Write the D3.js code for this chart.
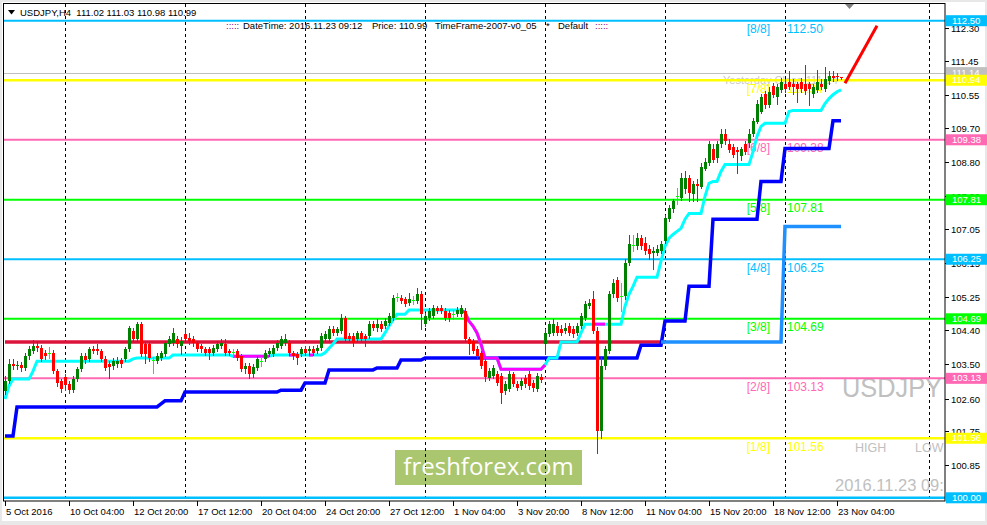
<!DOCTYPE html>
<html><head><meta charset="utf-8">
<script src="https://cdn.jsdelivr.net/npm/d3@7"></script>
<style>html,body{margin:0;padding:0;background:#fff;}svg{display:block;}text{font-family:"Liberation Sans",Arial,sans-serif;white-space:pre;}</style>
</head><body>
<svg id="c" width="987" height="525"></svg>
<script>
// ---------------- DATA ----------------
const timeTickIdx = [0,16,32,48,64,80,96,112,128,144,160,176,192,208];
const timeTickLabels = ["5 Oct 2016","10 Oct 04:00","12 Oct 20:00","17 Oct 12:00","20 Oct 04:00","24 Oct 20:00","27 Oct 12:00","1 Nov 04:00","3 Nov 20:00","8 Nov 12:00","11 Nov 04:00","15 Nov 20:00","18 Nov 12:00","23 Nov 04:00"];
const priceTicks = [112.30,111.45,110.55,109.70,108.80,107.90,107.05,106.15,105.25,104.40,103.50,102.60,101.75,100.85];
const separatorIdx = [15,45,75,105,135,165,195,231];

const open = [
102.80,103.06,103.50,103.45,103.48,103.40,103.71,103.84,103.97,103.92,
103.79,103.79,103.79,103.32,103.06,103.16,102.98,102.82,103.11,103.37,
103.71,103.64,103.90,103.90,103.84,103.64,103.50,103.45,103.50,103.61,
103.64,103.90,104.37,104.16,104.55,104.03,104.03,103.60,103.58,103.66,
103.77,104.03,104.06,104.16,103.97,104.29,104.19,104.16,104.06,103.97,
103.90,103.90,103.79,103.90,103.97,104.03,103.84,103.82,103.84,103.71,
103.37,103.45,103.24,103.40,103.58,103.64,103.77,103.77,103.92,103.97,
104.06,104.06,103.79,103.77,103.77,103.90,103.84,103.90,103.84,103.92,
104.16,104.16,104.42,104.32,104.37,104.71,104.24,104.24,104.16,104.32,
104.24,104.24,104.55,104.45,104.55,104.50,104.58,104.71,105.26,105.23,
105.20,105.10,105.18,105.15,105.33,104.55,104.71,104.76,104.97,104.97,
104.89,104.84,104.81,104.81,104.81,104.89,104.16,104.11,103.90,103.79,
103.58,103.14,103.19,103.24,103.19,102.80,102.85,103.24,102.98,102.93,
103.14,103.24,103.01,102.85,103.16,104.03,104.29,104.32,104.50,104.42,
104.37,104.50,104.42,104.32,104.50,104.71,105.02,105.20,104.37,101.75,
103.45,103.84,105.33,105.70,105.28,105.28,106.15,106.62,106.59,106.80,
106.67,106.51,106.41,106.41,106.46,106.72,107.29,107.55,107.90,107.84,
108.08,108.37,107.95,108.21,108.16,108.63,108.76,109.15,108.89,109.26,
109.52,109.28,109.20,109.10,108.94,109.28,109.28,109.52,109.86,110.12,
110.59,110.30,110.80,110.51,110.70,110.85,110.90,110.85,110.83,110.90,
110.83,110.83,110.59,110.70,110.85,110.72,110.90,111.06,111.05,111.02];
const close = [
103.06,103.50,103.45,103.48,103.40,103.71,103.90,103.97,103.92,103.64,
103.71,103.79,103.32,103.01,102.85,102.95,102.82,103.11,103.37,103.71,
103.61,103.90,103.84,103.84,103.64,103.40,103.43,103.58,103.58,103.50,
103.90,104.45,104.16,104.55,103.77,103.77,103.66,103.60,103.71,103.79,
104.06,104.16,104.32,104.03,104.11,104.16,104.11,104.06,103.90,103.90,
103.79,103.79,103.92,104.03,104.06,103.79,103.79,103.82,103.66,103.37,
103.45,103.24,103.43,103.64,103.58,103.79,103.84,103.92,104.06,104.16,
104.16,103.79,103.71,103.66,103.90,103.79,103.90,103.79,103.92,104.24,
104.29,104.42,104.32,104.42,104.71,104.16,104.16,104.06,104.32,104.16,
104.16,104.55,104.45,104.55,104.42,104.63,104.76,105.23,105.26,105.15,
105.07,105.20,105.18,105.33,104.81,104.76,104.89,104.97,104.89,104.89,
104.71,104.71,104.81,104.92,104.97,104.16,104.03,103.84,103.71,103.45,
103.16,103.32,103.40,103.01,102.75,102.98,103.24,102.98,102.88,103.06,
102.98,102.93,102.88,103.19,103.09,104.32,104.55,104.55,104.32,104.32,
104.45,104.32,104.29,104.50,104.76,105.07,105.10,104.37,101.75,103.45,
103.90,105.33,105.62,105.23,105.28,106.15,106.64,106.62,106.80,106.59,
106.46,106.38,106.46,106.51,106.64,107.32,107.58,107.77,107.90,108.37,
108.37,107.98,108.21,108.16,108.68,108.81,109.26,108.86,109.26,109.52,
109.34,109.13,108.99,109.05,109.13,109.07,109.52,109.86,110.33,110.51,
110.30,110.64,110.57,110.77,110.90,110.72,110.77,110.77,110.70,110.72,
110.64,110.70,110.77,110.90,110.77,110.98,111.04,111.01,111.02,110.99];
const high = [
103.19,103.63,103.63,103.58,103.56,103.79,103.97,104.13,104.11,104.00,
103.87,103.95,103.87,103.37,103.11,103.24,103.06,103.19,103.43,103.79,
103.79,103.95,103.97,104.03,103.90,103.71,103.58,103.66,103.69,103.66,
103.95,104.50,104.45,104.60,104.60,104.11,104.08,103.69,103.79,103.84,
104.11,104.24,104.45,104.24,104.21,104.42,104.32,104.24,104.11,104.03,
103.95,103.95,104.00,104.11,104.16,104.16,103.90,103.90,103.90,103.77,
103.53,103.53,103.50,103.71,103.69,103.87,103.92,104.00,104.13,104.24,
104.29,104.13,103.84,103.82,103.95,103.97,103.97,103.97,104.00,104.32,
104.37,104.50,104.50,104.47,104.81,104.76,104.32,104.32,104.37,104.37,
104.29,104.63,104.63,104.68,104.63,104.71,104.84,105.31,105.36,105.31,
105.26,105.36,105.28,105.49,105.41,104.84,104.97,105.05,105.02,105.05,
104.97,104.92,104.92,105.00,105.05,104.97,104.21,104.16,103.97,103.84,
103.64,103.40,103.48,103.32,103.27,103.06,103.32,103.30,103.06,103.14,
103.22,103.32,103.09,103.27,103.24,104.42,104.63,104.68,104.60,104.52,
104.58,104.58,104.50,104.58,104.84,105.15,105.20,105.41,104.47,103.71,
103.97,105.41,105.73,105.78,105.62,106.25,106.88,106.88,106.93,106.88,
106.82,106.62,106.56,106.62,106.72,107.40,107.66,107.84,108.11,108.50,
108.55,108.45,108.29,108.34,108.76,108.89,109.34,109.26,109.34,109.65,
109.65,109.39,109.28,109.20,109.20,109.36,109.65,109.94,110.41,110.59,
110.67,110.75,110.88,110.85,110.99,110.96,111.17,110.96,110.90,111.01,
111.35,110.90,110.85,111.22,110.96,111.30,111.17,111.17,111.12,111.03];
const low = [
102.72,103.01,103.37,103.37,103.32,103.35,103.64,103.79,103.84,103.58,
103.64,103.66,103.27,102.93,102.77,102.82,102.75,102.77,103.06,103.32,
103.53,103.58,103.79,103.77,103.58,103.35,103.14,103.37,103.43,103.43,
103.58,103.84,104.11,104.11,103.71,103.53,103.58,103.27,103.53,103.61,
103.71,103.97,104.00,103.95,103.77,104.11,104.03,103.97,103.84,103.82,
103.74,103.64,103.74,103.84,103.92,103.74,103.74,103.71,103.61,103.32,
103.27,103.14,103.16,103.35,103.45,103.58,103.71,103.71,103.87,103.92,
104.00,103.74,103.64,103.50,103.71,103.74,103.77,103.74,103.79,103.87,
104.11,104.11,104.26,104.26,104.32,104.11,104.08,103.97,104.11,104.11,
103.97,104.19,104.40,104.37,104.37,104.45,104.52,104.66,105.15,105.10,
105.02,105.05,105.07,105.10,104.42,104.50,104.66,104.71,104.84,104.84,
104.66,104.63,104.68,104.76,104.76,104.11,103.77,103.79,103.64,103.40,
103.06,103.09,103.14,102.95,102.48,102.72,102.80,102.93,102.82,102.85,
102.90,102.85,102.80,102.80,103.03,103.77,104.24,104.26,104.26,104.26,
104.32,104.26,104.21,104.26,104.45,104.66,104.97,104.32,101.18,101.57,
103.37,103.79,105.26,105.15,104.89,105.20,106.09,106.46,106.51,106.51,
106.38,106.25,105.99,106.36,106.41,106.67,107.24,107.50,107.71,107.79,
107.98,107.77,107.77,107.77,108.11,108.58,108.71,108.81,108.81,109.18,
109.26,109.07,108.94,108.50,108.86,109.02,109.20,109.47,109.81,110.07,
110.22,110.25,110.49,110.33,110.64,110.64,110.70,110.59,110.38,110.64,
110.57,110.30,110.51,110.64,110.70,110.67,110.85,110.93,110.95,110.98];

// trailing line (cyan), one value per bar
const trailLine = [
102.59,102.93,103.11,103.11,103.11,103.11,103.11,103.32,103.58,103.58,
103.58,103.58,103.58,103.58,103.58,103.58,103.58,103.58,103.58,103.58,
103.58,103.58,103.58,103.58,103.58,103.58,103.58,103.58,103.58,103.58,
103.58,103.58,103.64,103.66,103.66,103.66,103.66,103.66,103.66,103.66,
103.66,103.66,103.74,103.74,103.74,103.74,103.74,103.74,103.74,103.74,
103.74,103.74,103.74,103.74,103.74,103.74,103.74,103.71,103.71,103.71,
103.71,103.71,103.71,103.71,103.71,103.71,103.71,103.74,103.74,103.74,
103.74,103.74,103.74,103.74,103.74,103.74,103.74,103.74,103.74,103.74,
103.80,103.92,104.03,104.16,104.16,104.16,104.16,104.16,104.16,104.16,
104.16,104.16,104.16,104.16,104.16,104.32,104.50,104.66,104.81,104.81,
104.81,104.92,104.92,104.92,104.92,104.92,104.92,104.92,104.92,104.92,
104.92,104.92,104.92,104.92,104.92,104.86,104.63,104.50,104.32,104.03,
103.66,103.66,103.66,103.66,103.37,103.37,103.37,103.37,103.37,103.37,
103.37,103.37,103.37,103.37,103.37,103.48,103.66,103.66,103.66,104.08,
104.08,104.08,104.08,104.08,104.32,104.55,104.55,104.55,104.55,104.55,
104.55,104.55,104.55,104.55,104.55,105.02,105.33,105.54,105.78,105.78,
105.78,105.78,105.78,105.78,106.20,106.59,106.80,106.90,106.98,107.06,
107.30,107.45,107.45,107.45,107.45,107.90,108.24,108.29,108.29,108.55,
108.73,108.73,108.73,108.73,108.73,108.73,108.73,109.07,109.47,109.73,
109.81,109.81,109.81,109.81,109.81,109.81,110.12,110.15,110.15,110.15,
110.15,110.15,110.15,110.15,110.15,110.33,110.46,110.56,110.64,110.69];
const trailDownRanges = [[57,66],[71,73],[76,77],[114,135],[147,150]];

// step lines: [bar index, price] vertices
const blueStep = [[0,101.62],[2,101.62],[3,102.38],[38,102.38],[39,102.46],[40,102.54],[44,102.54],[45,102.77],[68,102.77],[69,102.82],[74,102.82],[75,103.01],[80,103.01],[81,103.35],[92,103.35],[93,103.40],[98,103.40],[99,103.61],[104,103.61],[105,103.66],[158,103.66],[159,104.00],[164,104.00],[165,104.63],[170,104.63],[171,105.54],[176,105.54],[177,107.30],[188,107.30],[189,108.29],[194,108.29],[195,109.15],[206,109.15],[207,109.88],[209,109.88]];
const skyStep = [[164,104.08],[194,104.08],[195,107.11],[209,107.11]];
const crimsonLine = [[0,104.08],[165,104.08]];
const forecastLine = [[210,110.86],[218,112.37]];

// Murrey levels
const mmLevels = [112.50,110.94,109.38,107.81,106.25,104.69,103.13,101.56,100.00];
const mmNames  = ["[8/8]","[7/8]","[6/8]","[5/8]","[4/8]","[3/8]","[2/8]","[1/8]","[0/8]"];
const mmColors = ["#00BFFF","#FFFF00","#FF69B4","#00FF00","#00BFFF","#00FF00","#FF69B4","#FFFF00","#00BFFF"];
const mmWidths = [2,2.5,2,2,2,2,2,2.5,2.5];
const yesterdayClose = 111.14;

// ---------------- DRAW ----------------
const svg = d3.select("#c");
const P = {l:4,t:4,r:945,b:501};
const x = d3.scaleLinear().domain([0,1]).range([5,9]);
const y = d3.scaleLinear().domain([100,112.5]).range([497.8,20.7]);
const font = '"Liberation Sans",Arial,sans-serif';

svg.append("rect").attr("width",987).attr("height",525).attr("fill","#e8e8e8");
svg.append("rect").attr("x",2).attr("y",2).attr("width",983).attr("height",519).attr("fill","#fff");

const defs = svg.append("defs");
defs.append("clipPath").attr("id","pc").append("rect").attr("x",P.l).attr("y",P.t).attr("width",P.r-P.l).attr("height",P.b-P.t);
const g = svg.append("g").attr("clip-path","url(#pc)");

// watermark box
g.append("rect").attr("x",395).attr("y",450).attr("width",187).attr("height",35).attr("fill","#AAC66E");

// separators
g.selectAll("line.sep").data(separatorIdx).join("line")
  .attr("x1",d=>Math.round(x(d))+0.5).attr("x2",d=>Math.round(x(d))+0.5)
  .attr("y1",P.t).attr("y2",P.b).attr("stroke","#000").attr("stroke-width",1).attr("stroke-dasharray","3,3");

g.append("text").attr("x",488.5).attr("y",475).attr("text-anchor","middle")
  .style("font-family",'"Open Sans",sans-serif').style("font-size","24px").attr("fill","#fff").text("freshforex.com");

// big grey texts
const grey="#C0C0C0";
g.append("text").attr("x",842).attr("y",397).attr("textLength",100).attr("lengthAdjust","spacingAndGlyphs").style("font-size","28px").attr("fill",grey).text("USDJPY");
g.append("text").attr("x",855).attr("y",452).style("font-size","12.5px").attr("fill",grey).text("HIGH");
g.append("text").attr("x",915).attr("y",452).style("font-size","12.5px").attr("fill",grey).text("LOW");
g.append("text").attr("x",835).attr("y",491).style("font-size","16.5px").attr("fill",grey).text("2016.11.23 09:12");

// yesterday close line + text
g.append("line").attr("x1",P.l).attr("x2",P.r).attr("y1",Math.round(y(yesterdayClose))+0.5).attr("y2",Math.round(y(yesterdayClose))+0.5).attr("stroke","#C0C0C0").attr("stroke-width",1);
g.append("text").attr("x",723).attr("y",84).style("font-size","11px").attr("fill","#C8C8C8").text("Yesterday Close "+yesterdayClose.toFixed(2));

// Murrey lines
mmLevels.forEach((v,k)=>{
  const yy = y(v);
  g.append("line").attr("x1",P.l).attr("x2",P.r).attr("y1",yy).attr("y2",yy).attr("stroke",mmColors[k]).attr("stroke-width",mmWidths[k]);
  g.append("text").attr("x",770).attr("y",yy+12.5).attr("text-anchor","end").style("font-size","12px").attr("fill",mmColors[k]).text(mmNames[k]);
  g.append("text").attr("x",787).attr("y",yy+12.5).style("font-size","12px").attr("fill",mmColors[k]).text(v.toFixed(2));
});

// indicator lines
const line = d3.line().x(d=>x(d[0])).y(d=>y(d[1]));
g.append("path").attr("d",line(crimsonLine)).attr("fill","none").attr("stroke","#DC143C").attr("stroke-width",3.5);
g.append("path").attr("d",line(blueStep)).attr("fill","none").attr("stroke","#0000FF").attr("stroke-width",3.5);
g.append("path").attr("d",line(skyStep)).attr("fill","none").attr("stroke","#1E90FF").attr("stroke-width",3.5);
const trailPts = trailLine.map((v,i)=>[i,v]);
g.append("path").attr("d",line(trailPts)).attr("fill","none").attr("stroke","#00FFFF").attr("stroke-width",3);
trailDownRanges.forEach(r=>{
  g.append("path").attr("d",line(trailPts.slice(r[0],r[1]+1))).attr("fill","none").attr("stroke","#FF00FF").attr("stroke-width",3);
});
g.append("path").attr("d",line(forecastLine)).attr("fill","none").attr("stroke","#FF0000").attr("stroke-width",3);

// candles
const bars = open.map((o,i)=>({i,o,h:high[i],l:low[i],c:close[i]}));
const col = d=> d.c>d.o ? "#008000" : (d.c<d.o ? "#FF0000" : "#00FF00");
const cg = g.append("g");
cg.selectAll("line.w").data(bars).join("line")
  .attr("x1",d=>Math.round(x(d.i))+0.5).attr("x2",d=>Math.round(x(d.i))+0.5)
  .attr("y1",d=>Math.round(y(d.h))).attr("y2",d=>Math.round(y(d.l))+1)
  .attr("stroke",col).attr("stroke-width",1).attr("shape-rendering","crispEdges");
cg.selectAll("rect.b").data(bars).join("rect")
  .attr("x",d=>Math.round(x(d.i))-1).attr("width",3)
  .attr("y",d=>Math.round(y(Math.max(d.o,d.c))))
  .attr("height",d=>Math.max(1,Math.round(Math.abs(y(d.o)-y(d.c)))))
  .attr("fill",col).attr("shape-rendering","crispEdges");

// shift marker
svg.append("path").attr("d","M845,4 L854,4 L849.5,9 Z").attr("fill","#808080");

// frame
svg.append("rect").attr("x",3.5).attr("y",3.5).attr("width",P.r-3.5).attr("height",P.b-3.5).attr("fill","none").attr("stroke","#000").attr("stroke-width",1);

// right axis
const ax = svg.append("g");
priceTicks.forEach(v=>{
  const yy=Math.round(y(v))+0.5;
  ax.append("line").attr("x1",P.r).attr("x2",P.r+4).attr("y1",yy).attr("y2",yy).attr("stroke","#000");
  ax.append("text").attr("x",951).attr("y",yy+1).attr("dominant-baseline","middle").style("font-size","9.5px").attr("fill","#000").text(v.toFixed(2));
});
// price tags
const tagData = [{v:yesterdayClose,c:"#C0C0C0"}].concat(mmLevels.map((v,k)=>({v,c:mmColors[k]})));
tagData.forEach(t=>{
  const yy=y(t.v);
  ax.append("rect").attr("x",946).attr("y",yy-5.5).attr("width",41).attr("height",11).attr("fill",t.c);
  ax.append("text").attr("x",952).attr("y",yy+0.5).attr("dominant-baseline","middle").style("font-size","9.5px").attr("fill","#fff").text(t.v.toFixed(2));
});

// time axis
timeTickIdx.forEach((d,k)=>{
  const xx=Math.round(x(d))+0.5;
  ax.append("line").attr("x1",xx).attr("x2",xx).attr("y1",P.b).attr("y2",P.b+5).attr("stroke","#000");
  ax.append("text").attr("x",xx+0.5).attr("y",515).style("font-size","9.5px").attr("fill","#000").text(timeTickLabels[k]);
});

// header
svg.append("path").attr("d","M8,10 L15,10 L11.5,14.5 Z").attr("fill","#000");
svg.append("text").attr("x",20).attr("y",16).style("font-size","9.5px").attr("fill","#000").text("USDJPY,H4  111.02 111.03 110.98 110.99");
const hdr=[[226,":::::","#800080"],[243,"DateTime: 2016.11.23 09:12","#000"],[372,"Price: 110.99","#000"],[435,"TimeFrame-2007-v0_05","#000"],[546,"*","#000"],[558,"Default","#000"],[595,":::::","#800080"]];
hdr.forEach(h=>svg.append("text").attr("x",h[0]).attr("y",29).style("font-size","9.5px").attr("fill",h[2]).text(h[1]));
</script>
</body></html>
